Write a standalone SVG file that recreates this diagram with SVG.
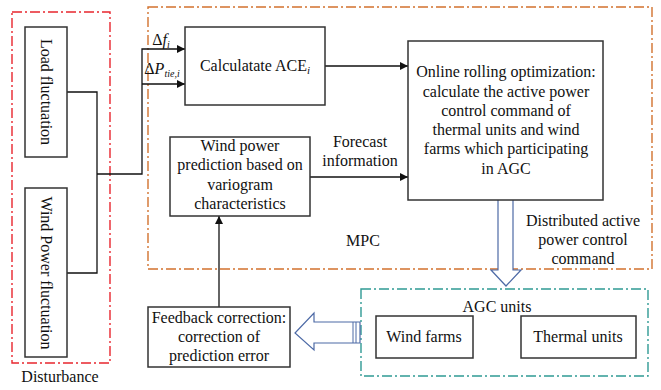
<svg xmlns="http://www.w3.org/2000/svg" width="661" height="390" viewBox="0 0 661 390" font-family="'Liberation Serif', 'Times New Roman', Times, serif">
<defs>
<style>
text{font-family:'Liberation Serif','Times New Roman',Times,serif;font-size:16px;fill:#111;text-anchor:middle}
.box{fill:#fff;stroke:#333;stroke-width:1.5}
.ln{fill:none;stroke:#111;stroke-width:1.3}
.red{fill:none;stroke:#e8262e;stroke-width:1.4;stroke-dasharray:10 3 2 3}
.org{fill:none;stroke:#d2722e;stroke-width:1.4;stroke-dasharray:10 3 2 3}
.teal{fill:none;stroke:#2f9a94;stroke-width:1.4;stroke-dasharray:10 3 2 3}
.hol{fill:#fff;stroke:#4d6aa6;stroke-width:1.2}
</style>
<marker id="ah" viewBox="0 0 10 10" refX="10" refY="5" markerWidth="10" markerHeight="8" markerUnits="userSpaceOnUse" orient="auto">
<path d="M0,0 L10,5 L0,10 z" fill="#111"/>
</marker>
</defs>

<g id="groups">
<rect class="red" x="12" y="12" width="98" height="351"/>
<rect class="org" x="148" y="7" width="504" height="262"/>
<rect class="teal" x="361" y="289" width="287" height="87"/>
<text x="60" y="382">Disturbance</text>
<text x="363" y="246">MPC</text>
<text x="497" y="312">AGC units</text>
</g>

<g id="connectors">
<polyline class="ln" points="67,92 97,92 97,273 67,273"/>
<polyline class="ln" points="97,174 142,174 142,49 185,49" marker-end="url(#ah)"/>
<polyline class="ln" points="142,84 185,84" marker-end="url(#ah)"/>
<polyline class="ln" points="325,66 408,66" marker-end="url(#ah)"/>
<polyline class="ln" points="310,177 408,177" marker-end="url(#ah)"/>
<polyline class="ln" points="219,307 219,216" marker-end="url(#ah)"/>
<path class="hol" d="M498,200 L498,270 L491,270 L506,286 L521,270 L513,270 L513,200"/>
<path class="hol" d="M360,322 L314,322 L314,313 L295,333 L314,350 L314,343 L360,343 Z"/>
<line x1="353" y1="322" x2="353" y2="343" stroke="#4d6aa6" stroke-width="1"/>
<line x1="356" y1="322" x2="356" y2="343" stroke="#4d6aa6" stroke-width="1"/>
<text x="161" y="45" font-style="italic"><tspan font-style="normal">Δ</tspan>f<tspan font-size="10" dy="3">i</tspan></text>
<text x="162" y="74"><tspan>Δ</tspan><tspan font-style="italic">P</tspan><tspan font-style="italic" font-size="10" dy="3">tie,i</tspan></text>
<text x="360" y="147">Forecast</text>
<text x="360" y="166">information</text>
<text x="583" y="226">Distributed active</text>
<text x="583" y="245">power control</text>
<text x="583" y="264">command</text>
</g>

<g id="load">
<rect class="box" x="25" y="27" width="42" height="130"/>
<text transform="translate(41,92) rotate(90)">Load  fluctuation</text>
</g>

<g id="wind-fluct">
<rect class="box" x="25" y="188" width="42" height="169"/>
<text transform="translate(41,273) rotate(90)">Wind Power fluctuation</text>
</g>

<g id="ace">
<rect class="box" x="185" y="27" width="140" height="78"/>
<text x="255" y="71">Calculatate ACE<tspan font-style="italic" font-size="11" dy="3">i</tspan></text>
</g>

<g id="predict">
<rect class="box" x="170" y="137" width="140" height="79"/>
<text x="240" y="151">Wind power</text>
<text x="240" y="170">prediction based on</text>
<text x="240" y="190">variogram</text>
<text x="240" y="209">characteristics</text>
</g>

<g id="online">
<rect class="box" x="408" y="41" width="195" height="159"/>
<text x="506" y="77">Online rolling optimization:</text>
<text x="506" y="97">calculate the active power</text>
<text x="506" y="116">control command of</text>
<text x="506" y="135">thermal units and wind</text>
<text x="506" y="154">farms which participating</text>
<text x="506" y="174">in AGC</text>
</g>

<g id="feedback">
<rect class="box" x="148" y="307" width="142" height="60"/>
<text x="219" y="323">Feedback correction:</text>
<text x="219" y="342">correction of</text>
<text x="219" y="361">prediction error</text>
</g>

<g id="windfarms">
<rect class="box" x="376" y="316" width="97" height="42"/>
<text x="424" y="342">Wind farms</text>
</g>

<g id="thermal">
<rect class="box" x="521" y="316" width="115" height="42"/>
<text x="578" y="342">Thermal units</text>
</g>
</svg>
